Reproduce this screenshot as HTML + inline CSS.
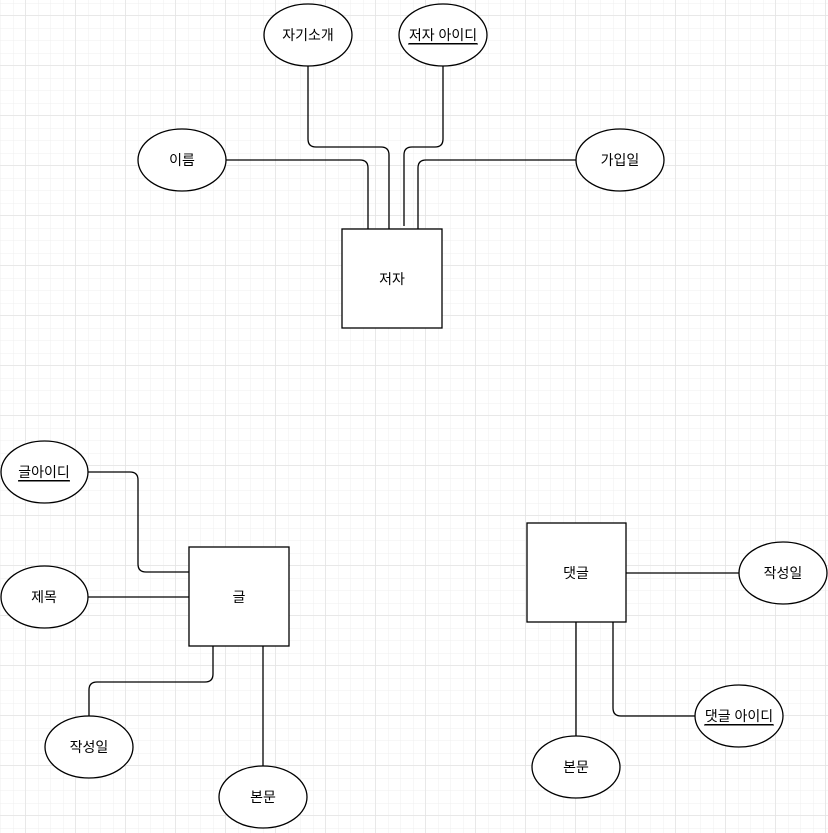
<!DOCTYPE html>
<html><head><meta charset="utf-8"><style>
html,body{margin:0;padding:0;background:#fff}
svg{display:block}
text{font-family:"Liberation Sans","Noto Sans CJK KR",sans-serif;font-size:14px;fill:#000;text-anchor:middle;dominant-baseline:central}
</style></head><body>
<svg width="828" height="833" viewBox="0 0 828 833" xmlns="http://www.w3.org/2000/svg">
<defs>
<pattern id="minor" x="0.5" y="3" width="12.5" height="12.5" patternUnits="userSpaceOnUse">
<path d="M0 0H12.5M0 0V12.5" stroke="#efefef" stroke-width="1" fill="none"/>
</pattern>
<pattern id="major" x="25" y="15" width="50" height="50" patternUnits="userSpaceOnUse">
<path d="M0 0H50M0 0V50" stroke="#e2e2e2" stroke-width="1" fill="none"/>
</pattern>
</defs>
<rect width="828" height="833" fill="url(#minor)"/>
<rect width="828" height="833" fill="url(#major)"/>
<g fill="none" stroke="#000" stroke-width="1.3">
<path d="M226 160H360Q368 160 368 168V229"/>
<path d="M308 66V139Q308 147 316 147H381Q389 147 389 155V229"/>
<path d="M443 66V139Q443 147 435 147H412Q404 147 404 155V226"/>
<path d="M576 160H426Q418 160 418 168V229"/>
<path d="M88 472H130Q138 472 138 480V564Q138 572 146 572H189"/>
<path d="M88 597H189"/>
<path d="M89 716V690Q89 682 97 682H205Q213 682 213 674V646"/>
<path d="M263 646V766"/>
<path d="M626 573H739"/>
<path d="M576 622V736"/>
<path d="M613 622V708Q613 716 621 716H695"/>
</g>
<g fill="#fff" stroke="#000" stroke-width="1.3">
<rect x="342" y="229" width="100" height="99"/>
<rect x="189" y="547" width="100" height="99"/>
<rect x="527" y="523" width="99" height="99"/>
<ellipse cx="308" cy="35" rx="44" ry="31"/>
<ellipse cx="443" cy="35" rx="44" ry="31"/>
<ellipse cx="182" cy="160" rx="44" ry="31"/>
<ellipse cx="620" cy="160" rx="44" ry="31"/>
<ellipse cx="44.5" cy="472" rx="43.5" ry="31"/>
<ellipse cx="44.5" cy="597" rx="43.5" ry="31"/>
<ellipse cx="89" cy="747" rx="44" ry="31"/>
<ellipse cx="263" cy="797" rx="44" ry="31"/>
<ellipse cx="783" cy="573" rx="44" ry="31"/>
<ellipse cx="576" cy="767" rx="44" ry="31"/>
<ellipse cx="739" cy="716" rx="44" ry="31"/>
</g>
<text x="392" y="279">저자</text>
<text x="239" y="597">글</text>
<text x="576" y="573">댓글</text>
<text x="308" y="35">자기소개</text>
<text x="443" y="35" text-decoration="underline">저자 아이디</text>
<text x="182" y="160">이름</text>
<text x="620" y="160">가입일</text>
<text x="44" y="472" text-decoration="underline">글아이디</text>
<text x="44" y="597">제목</text>
<text x="89" y="747">작성일</text>
<text x="263" y="797">본문</text>
<text x="783" y="573">작성일</text>
<text x="576" y="767">본문</text>
<text x="739" y="716" text-decoration="underline">댓글 아이디</text>
<line x1="408" y1="44" x2="478" y2="44" stroke="#000" stroke-width="1"/>
<line x1="18" y1="481" x2="70" y2="481" stroke="#000" stroke-width="1"/>
<line x1="704" y1="725" x2="774" y2="725" stroke="#000" stroke-width="1"/>
</svg>
</body></html>
